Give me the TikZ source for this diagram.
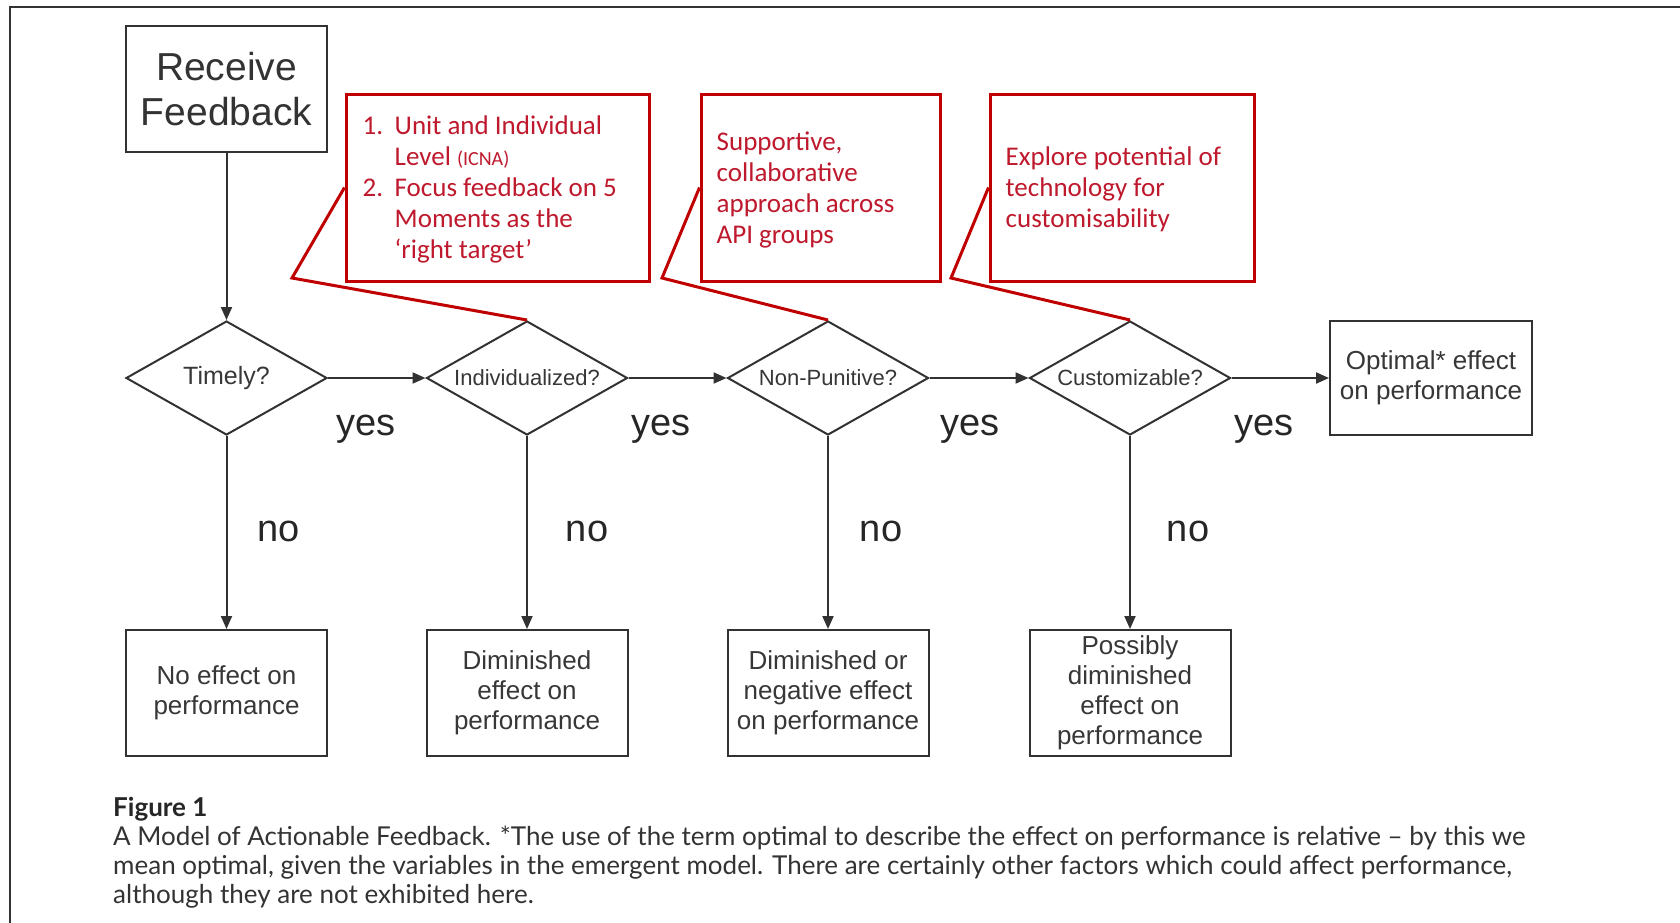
\documentclass[tikz,border=0pt]{standalone}
\usepackage{fontspec}
\setmainfont{Liberation Sans}
\newfontfamily\calib{Carlito}
\newfontfamily\capfont{Lato}
\usetikzlibrary{shapes.geometric,arrows.meta}
\definecolor{fred}{RGB}{192,0,0}
\definecolor{ftxt}{RGB}{190,25,45}
\definecolor{fline}{RGB}{50,50,50}
\definecolor{ftext}{RGB}{55,55,55}
\begin{document}
\begin{tikzpicture}[x=1pt,y=-1pt,
  box/.style={draw=fline,line width=2pt,rectangle,inner sep=0pt,minimum width=201pt,minimum height=126pt,align=center,text=ftext,font=\fontsize{26}{30}\selectfont},
  dec/.style={draw=fline,line width=2pt,diamond,inner sep=0pt,shape aspect=1.75,minimum width=201pt,minimum height=114pt,text=ftext,font=\fontsize{22}{26}\selectfont},
  redbox/.style={draw=fred,line width=3pt,rectangle,inner sep=0pt,minimum height=187pt},
  redtext/.style={anchor=west,inner sep=0pt,align=left,text=ftxt,font=\calib\fontsize{27}{31}\selectfont},
  arr/.style={draw=fline,line width=2pt,-{Triangle[length=13pt,width=11pt]}},
  callout/.style={draw=fred,line width=3pt,line join=miter},
  lbl/.style={font=\fontsize{38}{40}\selectfont,text=black!85,inner sep=0pt}
]
\useasboundingbox (0,0) rectangle (1680,922);
\fill[white] (0,0) rectangle (1680,922);
\draw[line width=2.5pt,draw=black!80] (10,930) -- (10,7) -- (1690,7);

% main flow
\node[box,font=\fontsize{39}{45}\selectfont,text=black!80] (rf) at (226.5,89) {Receive\\Feedback};
\node[dec,font=\fontsize{25}{28}\selectfont] (d1) at (226.5,378) {Timely?};
\node[dec] (d2) at (527,378) {Individualized?};
\node[dec] (d3) at (828,378) {Non-Punitive?};
\node[dec] (d4) at (1130,378) {Customizable?};
\node[box,minimum width=202pt,minimum height=114pt] (opt) at (1431,378) {Optimal* effect\\on performance};

\node[box] (b1) at (226.5,693) {No effect on\\performance};
\node[box] (b2) at (527,693) {Diminished\\effect on\\performance};
\node[box] (b3) at (828,693) {Diminished or\\negative effect\\on performance};
\node[box] (b4) at (1130,693) {Possibly\\diminished\\effect on\\performance};

\draw[arr] (rf.south) -- (d1.north);
\draw[arr] (d1.east) -- (d2.west);
\draw[arr] (d2.east) -- (d3.west);
\draw[arr] (d3.east) -- (d4.west);
\draw[arr] (d4.east) -- (opt.west);
\draw[arr] (d1.south) -- (b1.north);
\draw[arr] (d2.south) -- (b2.north);
\draw[arr] (d3.south) -- (b3.north);
\draw[arr] (d4.south) -- (b4.north);

\node[lbl] (y1) at (366,429) {yes};
\node[lbl] (y2) at (661,429) {yes};
\node[lbl] (y3) at (970,429) {yes};
\node[lbl] (y4) at (1264,429) {yes};
\node[lbl] (n1) at (279,531) {no};
\node[lbl] (n2) at (587,531) {no};
\node[lbl] (n3) at (881,531) {no};
\node[lbl] (n4) at (1188,531) {no};

% red callouts
\node[redbox,minimum width=303pt] (c1) at (497.5,187.5) {};
\node[redbox,minimum width=239pt] (c2) at (820.5,187.5) {};
\node[redbox,minimum width=264pt] (c3) at (1122,187.5) {};
\node[redtext] (t1) at ([xshift=18pt,yshift=-2pt]c1.west) {\makebox[32pt][l]{1.}Unit and Individual\\\hspace*{32pt}Level {\fontsize{20}{31}\selectfont(ICNA)}\\\makebox[32pt][l]{2.}Focus feedback on 5\\\hspace*{32pt}Moments as the\\\hspace*{32pt}‘right target’};
\node[redtext] (t2) at ([xshift=17pt,yshift=-2pt]c2.west) {Supportive,\\collaborative\\approach across\\API groups};
\node[redtext] (t3) at ([xshift=17pt,yshift=-2pt]c3.west) {Explore potential of\\technology for\\customisability};
\coordinate (k1) at (292,278);
\coordinate (k2) at (662,278);
\coordinate (k3) at (951,278);
\draw[callout] (c1.west) -- (k1) -- (d2.north);
\draw[callout] (c2.west) -- (k2) -- (d3.north);
\draw[callout] (c3.west) -- (k3) -- (d4.north);

% caption
\node[anchor=west,inner sep=0pt,text=black!85,font=\capfont\bfseries\fontsize{26}{29}\selectfont] (fig) at (113,809) {Figure 1};
\node[anchor=north west,inner sep=0pt,align=left,text=black!80,font=\capfont\fontsize{26}{29}\selectfont] (cap) at (113,826) {A Model of Actionable Feedback. *The use of the term optimal to describe the effect on performance is relative – by this we\\mean optimal, given the variables in the emergent model. There are certainly other factors which could affect performance,\\although they are not exhibited here.};
\end{tikzpicture}
\end{document}
